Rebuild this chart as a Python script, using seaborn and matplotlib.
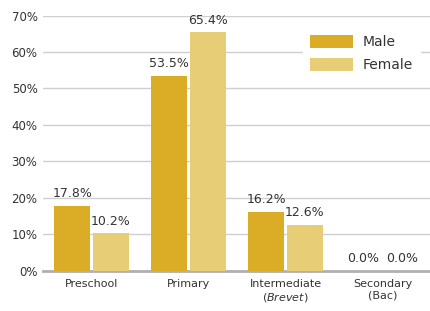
import pandas as pd
import matplotlib.pyplot as plt
import seaborn as sns

categories = ["Preschool", "Primary", "Intermediate\n(${\\it Brevet}$)", "Secondary\n(Bac)"]
male = [17.8, 53.5, 16.2, 0.0]
female = [10.2, 65.4, 12.6, 0.0]
yticks = [0, 10, 20, 30, 40, 50, 60, 70]

df = pd.DataFrame({
    "level": categories * 2,
    "share": male + female,
    "sex": ["Male"] * 4 + ["Female"] * 4,
})

sns.set_theme(style="white")
plt.rcParams["font.family"] = ["DejaVu Sans"]
plt.rcParams["mathtext.fontset"] = "custom"
plt.rcParams["mathtext.it"] = "DejaVu Sans:italic"

text_col = "#333333"
palette = {"Male": "#DBAC26", "Female": "#E7CD76"}

fig, ax = plt.subplots(figsize=(4.31, 3.11), dpi=100)
sns.barplot(data=df, x="level", y="share", hue="sex", palette=palette,
            width=0.8, gap=0.07, saturation=1, linewidth=0, ax=ax, zorder=3)

for cont in ax.containers:
    ax.bar_label(cont, labels=[f"{v:.1f}%" for v in cont.datavalues],
                 padding=4, fontsize=9, color=text_col)

ax.set_ylim(0, 70)
ax.set_xlim(-0.5, 3.5)
ax.set_yticks(yticks)
ax.set_yticklabels([f"{t}%" for t in yticks], fontsize=8.5, color=text_col)
ax.tick_params(axis="x", labelsize=8, colors=text_col, length=0, pad=6)
ax.tick_params(axis="y", length=0, pad=4)
ax.set_xlabel("")
ax.set_ylabel("")
ax.yaxis.grid(True, color="#cfcfcf", linewidth=1.0, zorder=0)
ax.set_axisbelow(True)
for s in ["top", "right", "left"]:
    ax.spines[s].set_visible(False)
ax.spines["bottom"].set_color("#b0b0b0")
ax.spines["bottom"].set_linewidth(2)

leg = ax.legend(loc="upper left", bbox_to_anchor=(0.652, 0.977), frameon=True,
                fontsize=10, handlelength=3.1, handleheight=1.0, labelcolor=text_col,
                borderpad=0.5, labelspacing=0.65, handletextpad=0.7)
leg.get_frame().set_facecolor("white")
leg.get_frame().set_edgecolor("white")
leg.get_frame().set_alpha(1)
leg.get_frame().set_boxstyle("square", pad=0)

fig.subplots_adjust(left=0.1, right=1.0, top=0.95, bottom=0.13)
fig.savefig("out.png", dpi=100)
